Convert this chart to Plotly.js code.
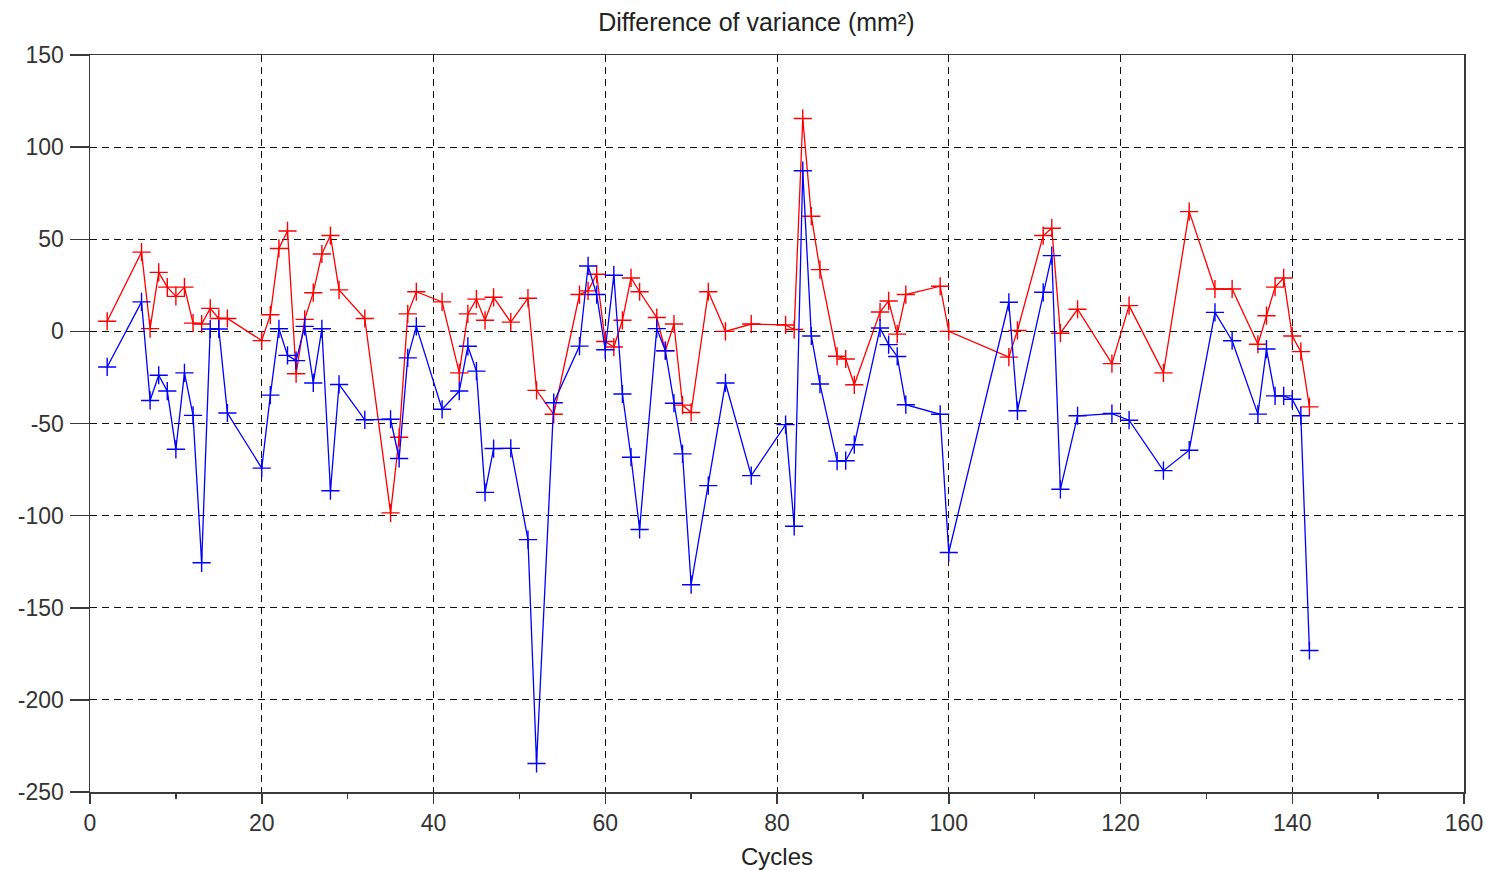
<!DOCTYPE html>
<html>
<head>
<meta charset="utf-8">
<script src="https://cdn.plot.ly/plotly-3.0.1.min.js"></script>
<style>html,body{margin:0;padding:0;background:#fff;}#chart{width:1486px;height:870px;}</style>
</head>
<body>
<div id="chart"></div>
<script>
const cycles = [2,6,7,8,9,10,11,12,13,14,15,16,20,21,22,23,24,25,26,27,28,29,32,35,36,37,38,41,43,44,45,46,47,49,51,52,54,57,58,59,60,61,62,63,64,66,67,68,69,70,72,74,77,81,82,83,84,85,87,88,89,92,93,94,95,99,100,107,108,111,112,113,115,119,121,125,128,131,133,136,137,138,139,140,141,142];

const redValues = [5.5,43,1.5,32,24,19,24,4.5,4,12.5,7,7,-5,9,45,54.5,-23,6.5,21,42,52,22.5,7,-98.5,-57.5,9.5,21.5,16,-22.5,9.5,17.5,6,18.5,5,18,-32,-45,20,22,31,-5.5,-8.5,6,29,21.5,7.5,-10.5,4,-40,-44,21.5,0,4,3.5,1,115.5,62.5,33.5,-13.5,-15,-29,10.5,16.5,-1.5,20,24.5,0,-14,0.5,52,56,-1,12,-17.5,14,-22.5,65,23,23,-7,8.5,24,29,-2.5,-11,-41];

const blueValues = [-19.3,16,-37.5,-23.8,-32.4,-64,-22.5,-45.6,-125.6,1.3,1.3,-44.3,-74.2,-34.6,1.4,-13,-15.9,2.7,-28,1.4,-86.5,-28.8,-48,-47.7,-69,-14.4,2.7,-42.3,-32.4,-8.1,-21.6,-87.4,-63.6,-63.5,-113,-234.5,-38.7,-8,35.5,20,-10,30.5,-34,-68.3,-107.5,1.5,-10.5,-39,-66.5,-137.5,-83.7,-28,-78.3,-50.6,-105.8,87.2,-2.5,-28.6,-70.4,-70.2,-61.5,1.8,-7.2,-13.6,-39.8,-45,-120,15.8,-43.1,21.2,41.1,-85.7,-45.8,-44.6,-48.2,-75.6,-64.5,10.3,-5.1,-44.9,-9.6,-35,-35,-36.8,-45.8,-173.2];

const xTicks = [0,20,40,60,80,100,120,140,160];
const xMinorTicks = [10,30,50,70,90,110,130,150];
const yTicks = [-250,-200,-150,-100,-50,0,50,100,150];

const FONT = 'Liberation Sans, Arial, sans-serif';

function series(vals, color) {
  return {
    x: cycles, y: vals, type: 'scatter', mode: 'lines+markers',
    line: {color: color, width: 1.3},
    marker: {symbol: 'cross-thin-open', size: 13, color: color, line: {color: color, width: 1.4}},
    showlegend: false, hoverinfo: 'x+y'
  };
}

const data = [series(redValues, '#ff0000'), series(blueValues, '#0000ff')];

const axisCommon = {
  showline: true, linecolor: '#3a3a3a', linewidth: 1.5, mirror: true,
  showgrid: true, gridcolor: '#111', gridwidth: 1, griddash: '7px,5px',
  zeroline: false, ticks: 'outside', tickcolor: '#3a3a3a', tickwidth: 1.5,
  tickfont: {family: FONT, size: 23, color: '#333'},
  tickmode: 'array'
};

const layout = {
  width: 1486, height: 870,
  paper_bgcolor: '#fff', plot_bgcolor: '#fff',
  margin: {l: 90, r: 22, t: 55, b: 78},
  title: {text: 'Difference of variance (mm²)', font: {family: FONT, size: 25, color: '#222'},
          xref: 'container', x: 0.509, xanchor: 'center', yref: 'container', y: 0.975, yanchor: 'middle'},
  xaxis: Object.assign({}, axisCommon, {
    range: [0, 160], tickvals: xTicks, ticktext: xTicks.map(String), ticklen: 10,
    minor: {tickvals: xMinorTicks, ticks: 'outside', ticklen: 5, tickcolor: '#3a3a3a', tickwidth: 1.5, showgrid: false},
    title: {text: 'Cycles', font: {family: FONT, size: 24, color: '#222'}, standoff: 14}
  }),
  yaxis: Object.assign({}, axisCommon, {
    range: [-250, 150], tickvals: yTicks, ticktext: yTicks.map(String), ticklen: 19,
    ticklabelstandoff: 1
  })
};

Plotly.newPlot('chart', data, layout, {displayModeBar: false, staticPlot: true});
</script>
</body>
</html>
